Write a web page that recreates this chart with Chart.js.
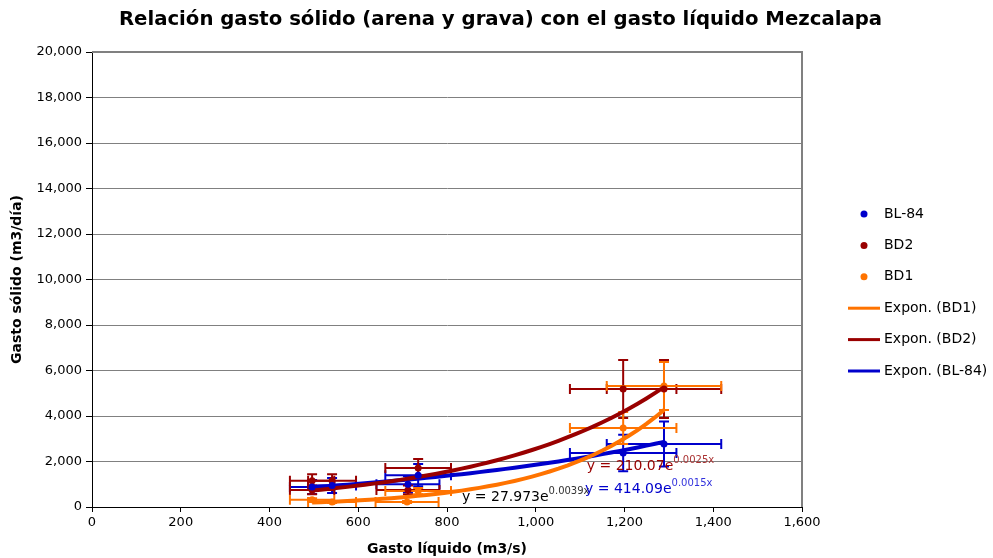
<!DOCTYPE html>
<html>
<head>
<meta charset="utf-8">
<script src="https://cdn.jsdelivr.net/npm/chart.js@4.4.0/dist/chart.umd.min.js"></script>
<style>
  html, body { margin: 0; padding: 0; background: #fff; }
</style>
</head>
<body>
<canvas id="chart" width="993" height="558"></canvas>
<script>
// Gasto líquido (m3/s) / gasto sólido (m3/día)
const bl84X = [496, 541, 712, 735, 1197, 1289];
const bl84Y = [880, 950, 1000, 1400, 2374, 2769];
const bl84ErrX = [50, 54, 71, 74, 120, 129];
const bl84ErrY = [310, 330, 350, 490, 800, 990];

const bd2X = [496, 496, 541, 712, 735, 1197, 1289];
const bd2Y = [1150, 750, 1150, 750, 1714, 5187, 5187];
const bd2ErrX = [50, 50, 54, 71, 74, 120, 129];
const bd2ErrY = [290, 190, 290, 190, 400, 1275, 1275];

const bd1X = [496, 541, 710, 735, 1197, 1289];
const bd1Y = [320, 220, 220, 700, 3473, 5319];
const bd1ErrX = [50, 54, 71, 74, 120, 129];
const bd1ErrY = [65, 45, 45, 140, 700, 1060];

// exponential trend lines y = a e^(b x) as printed on the chart
const trendNames = ['BD1', 'BD2', 'BL-84'];
const trendA = [27.973, 210.07, 414.09];
const trendB = [0.0039, 0.0025, 0.0015];

const xTicks = [0, 200, 400, 600, 800, 1000, 1200, 1400, 1600];
const yTicks = [0, 2000, 4000, 6000, 8000, 10000, 12000, 14000, 16000, 18000, 20000];

const colBlue = '#0000CC';
const colRed = '#990000';
const colOrange = '#FF7300';

const toPoints = (xs, ys) => xs.map((x, i) => ({ x: x, y: ys[i] }));

function trendPoints(a, b, xs) {
    const lo = Math.min(...xs), hi = Math.max(...xs);
    const pts = [];
    for (let i = 0; i <= 40; i++) {
        const x = lo + (hi - lo) * i / 40;
        pts.push({ x: x, y: a * Math.exp(b * x) });
    }
    return pts;
}

const fmt = v => Number(v).toLocaleString('en-US');

function pointSet(label, xs, ys, ex, ey, color) {
    return {
        label: label,
        data: toPoints(xs, ys),
        errX: ex,
        errY: ey,
        borderColor: color,
        backgroundColor: color,
        pointRadius: 3.5,
        pointBorderWidth: 0,
        showLine: false
    };
}

function trendSet(k, xs, color) {
    return {
        label: 'Expon. (' + trendNames[k] + ')',
        data: trendPoints(trendA[k], trendB[k], xs),
        borderColor: color,
        backgroundColor: color,
        borderWidth: 4,
        pointRadius: 0,
        showLine: true,
        tension: 0
    };
}

// error bars drawn under the markers
const errorBars = {
    id: 'errorBars',
    beforeDatasetsDraw(chart) {
        const { ctx, chartArea } = chart;
        ctx.save();
        // plot area frame (top and right side)
        ctx.strokeStyle = '#808080';
        ctx.lineWidth = 2;
        ctx.beginPath();
        ctx.moveTo(chartArea.left, chartArea.top);
        ctx.lineTo(chartArea.right, chartArea.top);
        ctx.lineTo(chartArea.right, chartArea.bottom);
        ctx.stroke();

        ctx.beginPath();
        ctx.rect(chartArea.left, chartArea.top, chartArea.width, chartArea.height);
        ctx.clip();
        chart.data.datasets.forEach((ds, i) => {
            if (!ds.errX) return;
            const meta = chart.getDatasetMeta(i);
            const xs = meta.xScale, ys = meta.yScale;
            ctx.strokeStyle = ds.borderColor;
            ctx.lineWidth = 2;
            ds.data.forEach((p, j) => {
                const px = xs.getPixelForValue(p.x);
                const py = ys.getPixelForValue(p.y);
                const x0 = xs.getPixelForValue(p.x - ds.errX[j]);
                const x1 = xs.getPixelForValue(p.x + ds.errX[j]);
                const y0 = ys.getPixelForValue(p.y - ds.errY[j]);
                const y1 = ys.getPixelForValue(p.y + ds.errY[j]);
                ctx.beginPath();
                ctx.moveTo(x0, py); ctx.lineTo(x1, py);
                ctx.moveTo(x0, py - 5); ctx.lineTo(x0, py + 5);
                ctx.moveTo(x1, py - 5); ctx.lineTo(x1, py + 5);
                ctx.moveTo(px, y0); ctx.lineTo(px, y1);
                ctx.moveTo(px - 5, y0); ctx.lineTo(px + 5, y0);
                ctx.moveTo(px - 5, y1); ctx.lineTo(px + 5, y1);
                ctx.stroke();
            });
        });
        ctx.restore();
    }
};

// trend equations, anchored in data units
const eqAnchors = [
    { x: 834, y: 440, color: '#000000', supColor: '#333333' },
    { x: 1115, y: 1770, color: '#990000', supColor: '#aa3333' },
    { x: 1111, y: 760, color: '#0000CC', supColor: '#3333dd' }
];

const equations = {
    id: 'equations',
    afterDatasetsDraw(chart) {
        const ctx = chart.ctx;
        const xs = chart.scales.x, ys = chart.scales.y;
        ctx.save();
        ctx.textBaseline = 'middle';
        ctx.textAlign = 'left';
        eqAnchors.forEach((a, k) => {
            const px = xs.getPixelForValue(a.x);
            const py = ys.getPixelForValue(a.y);
            const main = 'y = ' + trendA[k] + 'e';
            ctx.font = '14px "DejaVu Sans"';
            ctx.fillStyle = a.color;
            ctx.fillText(main, px, py);
            const w = ctx.measureText(main).width;
            ctx.font = '10px "DejaVu Sans"';
            ctx.fillStyle = a.supColor;
            ctx.fillText(trendB[k] + 'x', px + w, py - 6);
        });
        ctx.restore();
    }
};

// legend on the right side
const sideLegend = {
    id: 'sideLegend',
    afterDraw(chart) {
        const ctx = chart.ctx;
        ctx.save();
        ctx.font = '14px "DejaVu Sans"';
        ctx.textBaseline = 'middle';
        ctx.textAlign = 'left';
        chart.data.datasets.forEach((ds, i) => {
            const y = 214 + i * 31.4;
            if (ds.showLine) {
                ctx.strokeStyle = ds.borderColor;
                ctx.lineWidth = 3;
                ctx.beginPath();
                ctx.moveTo(848, y);
                ctx.lineTo(880, y);
                ctx.stroke();
            } else {
                ctx.fillStyle = ds.backgroundColor;
                ctx.beginPath();
                ctx.arc(864, y, 3.5, 0, Math.PI * 2);
                ctx.fill();
            }
            ctx.fillStyle = '#000';
            ctx.fillText(ds.label, 884, y);
        });
        ctx.restore();
    }
};

const ctx = document.getElementById('chart').getContext('2d');
new Chart(ctx, {
    type: 'scatter',
    data: {
        datasets: [
            pointSet('BL-84', bl84X, bl84Y, bl84ErrX, bl84ErrY, colBlue),
            pointSet('BD2', bd2X, bd2Y, bd2ErrX, bd2ErrY, colRed),
            pointSet('BD1', bd1X, bd1Y, bd1ErrX, bd1ErrY, colOrange),
            trendSet(0, bd1X, colOrange),
            trendSet(1, bd2X, colRed),
            trendSet(2, bl84X, colBlue)
        ]
    },
    options: {
        responsive: false,
        animation: false,
        devicePixelRatio: 1,
        layout: { padding: { left: 8, right: 0, top: 0, bottom: 0 } },
        plugins: {
            legend: { display: false },
            tooltip: { enabled: false },
            title: {
                display: true,
                text: 'Relación gasto sólido (arena y grava) con el gasto líquido Mezcalapa',
                color: '#000',
                font: { family: 'DejaVu Sans', size: 19.7, weight: 'bold' },
                padding: { top: 8, bottom: 20.4 }
            }
        },
        scales: {
            x: {
                type: 'linear',
                min: 0,
                max: 1600,
                afterBuildTicks: s => { s.ticks = xTicks.map(v => ({ value: v })); },
                afterFit: s => { s.paddingRight = 191; s.height = 51; },
                ticks: {
                    color: '#000',
                    padding: 3,
                    maxRotation: 0,
                    font: { family: 'DejaVu Sans', size: 13 },
                    callback: v => fmt(v)
                },
                grid: { drawOnChartArea: false, drawTicks: true, tickLength: 5, color: '#000' },
                border: { display: true, color: '#000', width: 1 },
                title: {
                    display: true,
                    text: 'Gasto líquido (m3/s)',
                    color: '#000',
                    font: { family: 'DejaVu Sans', size: 14, weight: 'bold' },
                    padding: { top: 9, bottom: 0 }
                }
            },
            y: {
                type: 'linear',
                min: 0,
                max: 20000,
                afterBuildTicks: s => { s.ticks = yTicks.map(v => ({ value: v })); },
                afterFit: s => { s.width = 84; },
                ticks: {
                    color: '#000',
                    padding: 4,
                    font: { family: 'DejaVu Sans', size: 13 },
                    callback: v => fmt(v)
                },
                grid: { color: '#808080', lineWidth: 1, tickLength: 6, tickColor: '#000' },
                border: { display: true, color: '#000', width: 1 },
                title: {
                    display: true,
                    text: 'Gasto sólido (m3/día)',
                    color: '#000',
                    font: { family: 'DejaVu Sans', size: 14, weight: 'bold' },
                    padding: { top: 1, bottom: 0 }
                }
            }
        }
    },
    plugins: [errorBars, equations, sideLegend]
});
</script>
</body>
</html>
